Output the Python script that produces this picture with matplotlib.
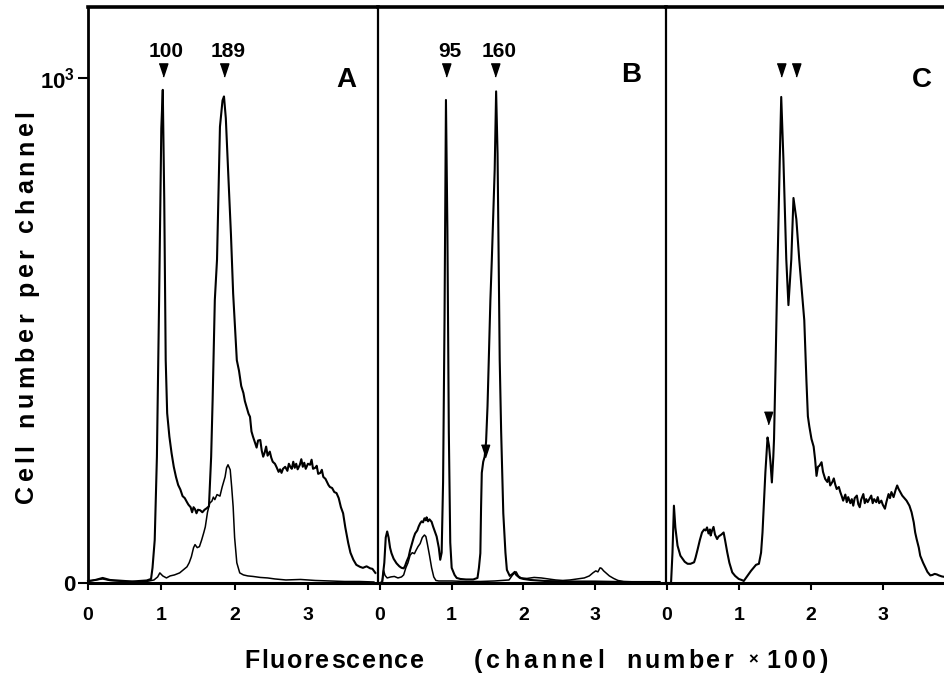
import numpy as np
import matplotlib
matplotlib.use("Agg")
import matplotlib.pyplot as plt
from matplotlib.font_manager import FontProperties
from matplotlib.textpath import TextToPath

plt.rcParams['font.family'] = ['Liberation Sans', 'DejaVu Sans']
plt.rcParams['font.weight'] = 'bold'
plt.rcParams['mathtext.fontset'] = 'custom'
plt.rcParams['mathtext.bf'] = 'Liberation Sans:bold'
plt.rcParams['mathtext.rm'] = 'Liberation Sans:bold'

# fluorescence (channel x 100), cell number per channel
a_main = [
    (0.00, 4), (0.10, 6), (0.20, 10), (0.30, 6), (0.40, 5), (0.50, 4), (0.60, 3),
    (0.70, 4), (0.80, 5), (0.86, 8), (0.88, 30), (0.91, 85), (0.94, 250), (0.97, 560),
    (1.00, 900), (1.02, 976), (1.04, 760), (1.06, 441), (1.08, 336), (1.11, 290),
    (1.14, 257), (1.17, 230), (1.20, 210), (1.23, 194), (1.26, 185), (1.29, 172),
    (1.32, 168), (1.35, 160), (1.37, 155), (1.40, 150), (1.42, 140), (1.44, 150),
    (1.46, 146), (1.48, 138), (1.50, 145), (1.53, 144), (1.56, 140), (1.59, 145),
    (1.62, 148), (1.65, 152), (1.68, 250), (1.70, 362), (1.73, 560), (1.76, 640),
    (1.80, 903), (1.835, 955), (1.855, 963), (1.88, 920), (1.915, 804), (1.95, 690),
    (1.98, 573), (2.03, 441), (2.06, 420), (2.09, 390), (2.12, 376), (2.14, 360),
    (2.17, 345), (2.19, 335), (2.21, 329), (2.23, 300), (2.25, 290), (2.28, 277),
    (2.30, 268), (2.32, 282), (2.35, 283), (2.37, 262), (2.39, 250), (2.41, 258),
    (2.43, 270), (2.45, 252), (2.48, 260), (2.50, 248), (2.52, 240), (2.55, 236),
    (2.57, 230), (2.60, 220), (2.62, 225), (2.64, 218), (2.66, 226), (2.69, 230),
    (2.72, 222), (2.74, 236), (2.76, 230), (2.78, 226), (2.80, 240), (2.82, 228),
    (2.84, 236), (2.86, 225), (2.89, 234), (2.91, 245), (2.93, 230), (2.95, 238),
    (2.97, 226), (3.00, 236), (3.03, 234), (3.05, 244), (3.07, 226), (3.10, 228),
    (3.12, 232), (3.14, 216), (3.17, 218), (3.19, 224), (3.21, 210), (3.24, 206),
    (3.26, 200), (3.28, 194), (3.30, 190), (3.33, 188), (3.36, 180), (3.39, 178),
    (3.42, 168), (3.45, 150), (3.48, 138), (3.51, 110), (3.55, 79), (3.58, 60),
    (3.62, 46), (3.66, 36), (3.71, 32), (3.75, 30), (3.80, 33), (3.85, 29),
    (3.88, 28), (3.92, 20),
]
a_second = [
    (0.0, 3), (0.1, 6), (0.2, 8), (0.3, 5), (0.4, 4), (0.5, 3), (0.6, 3), (0.7, 2),
    (0.8, 3), (0.9, 6), (0.95, 12), (0.98, 20), (1.02, 14), (1.07, 10), (1.12, 14),
    (1.18, 16), (1.25, 20), (1.30, 26), (1.35, 32), (1.38, 40), (1.41, 52),
    (1.44, 70), (1.46, 76), (1.49, 70), (1.52, 72), (1.55, 85), (1.58, 100),
    (1.60, 111), (1.63, 140), (1.66, 158), (1.69, 162), (1.71, 170), (1.73, 165),
    (1.76, 175), (1.80, 172), (1.83, 190), (1.87, 210), (1.89, 228), (1.91, 234),
    (1.94, 224), (1.96, 190), (1.98, 151), (2.00, 90), (2.03, 40), (2.07, 20),
    (2.12, 16), (2.18, 14), (2.25, 13), (2.35, 11), (2.45, 10), (2.55, 8),
    (2.7, 6), (2.9, 7), (3.1, 5), (3.3, 4), (3.5, 3), (3.7, 3), (3.9, 2),
]
b_main = [
    (0.00, 0), (0.03, 2), (0.06, 40), (0.08, 90), (0.10, 102), (0.12, 90),
    (0.14, 70), (0.16, 59), (0.19, 48), (0.23, 39), (0.27, 33), (0.30, 30),
    (0.33, 29), (0.35, 34), (0.37, 42), (0.40, 52), (0.42, 65), (0.45, 80),
    (0.47, 90), (0.49, 98), (0.52, 104), (0.54, 112), (0.56, 118), (0.58, 122),
    (0.60, 120), (0.62, 128), (0.64, 124), (0.65, 130), (0.67, 122), (0.69, 126),
    (0.72, 121), (0.74, 112), (0.76, 104), (0.79, 92), (0.82, 70), (0.84, 46),
    (0.86, 60), (0.88, 200), (0.90, 520), (0.92, 956), (0.94, 700), (0.96, 300),
    (0.98, 80), (1.00, 30), (1.04, 16), (1.07, 10), (1.12, 8), (1.20, 7),
    (1.30, 7), (1.36, 10), (1.38, 30), (1.40, 59), (1.41, 150), (1.42, 218),
    (1.44, 240), (1.46, 250), (1.48, 280), (1.50, 350), (1.51, 402), (1.54, 560),
    (1.56, 640), (1.60, 818), (1.62, 973), (1.64, 850), (1.67, 442), (1.69, 300),
    (1.72, 138), (1.75, 60), (1.77, 26), (1.81, 14), (1.85, 18), (1.88, 22),
    (1.90, 16), (1.95, 10), (2.00, 8), (2.1, 6), (2.3, 4), (2.6, 3), (3.0, 3),
    (3.4, 2), (3.9, 2),
]
b_second = [
    (0.00, 0), (0.03, 0), (0.05, 25), (0.07, 15), (0.10, 10), (0.15, 12),
    (0.20, 13), (0.25, 10), (0.30, 12), (0.33, 16), (0.36, 30), (0.39, 40),
    (0.42, 55), (0.45, 60), (0.48, 58), (0.50, 64), (0.53, 72), (0.56, 78),
    (0.59, 90), (0.62, 95), (0.64, 92), (0.66, 78), (0.69, 55), (0.72, 30),
    (0.75, 12), (0.78, 5), (0.82, 4), (0.9, 4), (1.0, 4), (1.2, 3), (1.4, 3),
    (1.6, 4), (1.8, 6), (1.85, 16), (1.90, 22), (1.93, 14), (1.97, 10),
    (2.05, 9), (2.15, 11), (2.25, 10), (2.35, 8), (2.45, 6), (2.55, 5),
    (2.65, 6), (2.75, 8), (2.85, 10), (2.92, 14), (2.97, 20), (3.01, 24),
    (3.04, 22), (3.07, 30), (3.09, 29), (3.12, 24), (3.16, 19), (3.20, 14),
    (3.26, 9), (3.32, 5), (3.40, 3), (3.6, 2), (3.9, 2),
]
c_main = [
    (0.00, 0), (0.06, 0), (0.08, 60), (0.10, 153), (0.12, 110), (0.15, 74),
    (0.19, 54), (0.22, 48), (0.25, 42), (0.29, 38), (0.33, 38), (0.38, 41),
    (0.40, 50), (0.43, 67), (0.46, 85), (0.49, 100), (0.52, 106), (0.54, 104),
    (0.56, 110), (0.58, 98), (0.60, 106), (0.61, 94), (0.63, 104), (0.65, 111),
    (0.67, 96), (0.70, 87), (0.72, 92), (0.74, 94), (0.76, 96), (0.79, 100),
    (0.81, 85), (0.84, 61), (0.87, 40), (0.91, 21), (0.95, 14), (1.00, 8),
    (1.04, 6), (1.07, 4), (1.10, 10), (1.14, 18), (1.17, 24), (1.21, 31),
    (1.24, 36), (1.28, 38), (1.31, 60), (1.33, 100), (1.35, 160), (1.37, 219),
    (1.40, 288), (1.42, 272), (1.44, 240), (1.46, 199), (1.48, 250), (1.49, 285),
    (1.51, 420), (1.53, 570), (1.57, 840), (1.59, 962), (1.62, 840), (1.66, 641),
    (1.69, 550), (1.73, 641), (1.76, 762), (1.80, 720), (1.84, 640), (1.88, 570),
    (1.91, 520), (1.94, 400), (1.96, 330), (1.98, 310), (2.01, 285), (2.04, 270),
    (2.06, 245), (2.08, 212), (2.10, 230), (2.12, 232), (2.15, 239), (2.17, 220),
    (2.20, 206), (2.23, 200), (2.25, 210), (2.27, 193), (2.30, 200), (2.32, 207),
    (2.34, 195), (2.36, 186), (2.39, 190), (2.41, 180), (2.43, 172), (2.45, 163),
    (2.48, 175), (2.50, 160), (2.52, 170), (2.55, 158), (2.57, 166), (2.59, 153),
    (2.61, 168), (2.64, 173), (2.66, 156), (2.68, 150), (2.70, 165), (2.73, 176),
    (2.75, 158), (2.77, 166), (2.79, 160), (2.82, 168), (2.84, 173), (2.86, 158),
    (2.88, 166), (2.91, 160), (2.93, 170), (2.95, 158), (2.98, 163), (3.00, 155),
    (3.03, 147), (3.05, 160), (3.08, 176), (3.10, 168), (3.12, 180), (3.15, 170),
    (3.18, 185), (3.20, 193), (3.22, 186), (3.25, 178), (3.27, 173), (3.30, 168),
    (3.33, 163), (3.35, 158), (3.37, 153), (3.40, 140), (3.43, 120), (3.45, 100),
    (3.47, 87), (3.50, 70), (3.52, 54), (3.56, 40), (3.59, 31), (3.62, 22),
    (3.66, 15), (3.69, 16), (3.72, 18), (3.75, 17), (3.78, 15), (3.82, 13),
    (3.86, 12),
]

# peak markers: (x, label)
a_peaks = [(1.02, '100'), (1.855, '189')]
b_peaks = [(0.92, '95'), (1.61, '160')]
c_peaks = [(1.59, ''), (1.80, '')]
b_shoulder = (1.46, 262)
c_shoulder = (1.40, 326)

x_ticks = [0, 1, 2, 3]
y_ticks = [0, 1000]
y_ticklabels = ['0', r'$\mathbf{10^{3}}$']
YMAX = 1140

W, H = 945, 676
fig = plt.figure(figsize=(W / 100, H / 100), dpi=100)

tri = [(-0.33, 0.5), (0.33, 0.5), (0, -0.5)]
_ttp = TextToPath()


def spaced_text(s, start, end, base, size, vertical=False):
    # letter-spaced label, one glyph at a time
    fp = FontProperties(family='Liberation Sans', weight='bold', size=size)
    k = fig.dpi / 72
    widths = []
    for ch in s:
        if ch == ' ':
            widths.append(size * 0.3 * k)
        else:
            widths.append(_ttp.get_text_width_height_descent(ch, fp, ismath=False)[0] * k)
    gap = 0.0
    if len(s) > 1:
        gap = (abs(end - start) - sum(widths)) / (len(s) - 1)
    pos = start
    for ch, w in zip(s, widths):
        if ch != ' ':
            if vertical:
                fig.text(base / W, 1 - pos / H, ch, rotation=90, rotation_mode='anchor',
                         ha='left', va='baseline', fontproperties=fp)
            else:
                fig.text(pos / W, 1 - base / H, ch, ha='left', va='baseline',
                         fontproperties=fp)
        pos += (w + gap) * (-1 if vertical else 1)


def panel(left_px, right_px, xlim):
    ax = fig.add_axes([left_px / W, 1 - 583 / H, (right_px - left_px) / W, 576 / H])
    ax.set_xlim(*xlim)
    ax.set_ylim(0, YMAX)
    ax.set_xticks(x_ticks)
    ax.tick_params(axis='x', direction='out', length=5, width=1.5, pad=12, labelsize=14)
    ax.spines['bottom'].set_linewidth(2.2)
    ax.spines['top'].set_linewidth(2.6)
    ax.spines['left'].set_linewidth(1.6)
    ax.spines['right'].set_visible(False)
    ax.set_yticks([])
    return ax


def draw(ax, data, lw):
    arr = np.array(data, dtype=float)
    ax.plot(arr[:, 0], arr[:, 1], color='k', lw=lw, clip_on=False)


def mark_peaks(ax, peaks, label_dx=0.05):
    for x, lab in peaks:
        ax.plot([x], [1016], marker=tri, ms=9.5, color='k', ls='none')
        if lab:
            ax.text(x + label_dx, 1052, lab, ha='center', va='center', fontsize=15)


axA = panel(88, 378, (0, 3.956))
axA.spines['left'].set_linewidth(2.0)
axA.set_yticks(y_ticks, y_ticklabels)
axA.tick_params(axis='y', direction='out', length=7, width=1.5, pad=2, labelsize=16)
draw(axA, a_main, 1.5)
draw(axA, a_second, 1.1)
mark_peaks(axA, a_peaks)
axA.text(3.53, 996, 'A', ha='center', va='center', fontsize=20)

axB = panel(378, 666, (-0.028, 3.99))
draw(axB, b_main, 1.5)
draw(axB, b_second, 1.1)
mark_peaks(axB, b_peaks)
axB.plot([b_shoulder[0]], [b_shoulder[1]], marker=tri, ms=9, color='k', ls='none')
axB.text(3.51, 1006, 'B', ha='center', va='center', fontsize=20)

axC = panel(666, 945, (-0.01, 3.864))
draw(axC, c_main, 1.5)
mark_peaks(axC, c_peaks)
axC.plot([c_shoulder[0]], [c_shoulder[1]], marker=tri, ms=9, color='k', ls='none')
axC.text(3.54, 996, 'C', ha='center', va='center', fontsize=20)

spaced_text('Cell number per channel', 503, 110, 33, 18, vertical=True)
spaced_text('Fluorescence', 244, 424, 668, 18)
spaced_text('(channel', 474, 604, 668, 18)
spaced_text('number', 626, 733, 668, 18)
spaced_text('\u00d7', 748, 756, 664, 12)
spaced_text('100)', 766, 828, 668, 18)

fig.savefig('out.png', dpi=100)
